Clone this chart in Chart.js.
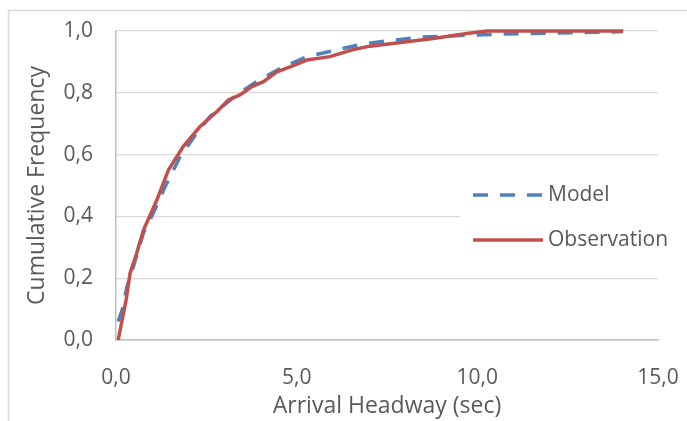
<!DOCTYPE html>
<html>
<head>
<meta charset="utf-8">
<script src="https://cdn.jsdelivr.net/npm/chart.js@4.4.0/dist/chart.umd.min.js"></script>
<style>
    html, body { margin: 0; padding: 0; background: #ffffff; }
    #wrap { position: relative; width: 687px; height: 421px; }
</style>
</head>
<body>
<div id="wrap"><canvas id="cdfChart" width="687" height="421"></canvas></div>
<script>
// Dane
const obsX = [0.06, 0.28, 0.39, 0.57, 0.76, 1.13, 1.45, 1.86, 2.32, 2.79, 3.11, 3.43, 3.76, 4.08, 4.45, 4.82, 5.28, 5.92, 6.57, 7.03, 8.05, 8.78, 9.71, 10.26, 14.04];
const obsY = [0.0, 0.13, 0.216, 0.28, 0.356, 0.453, 0.55, 0.626, 0.69, 0.739, 0.777, 0.793, 0.82, 0.836, 0.868, 0.884, 0.906, 0.917, 0.94, 0.951, 0.965, 0.976, 0.992, 1.0, 1.0];

const modelX = [0.06, 0.19, 0.30, 0.48, 0.76, 1.03, 1.36, 1.77, 2.23, 2.60, 3.34, 3.89, 4.63, 5.28, 6.0, 6.84, 7.58, 8.41, 9.88, 10.71, 11.46, 13.76, 14.03];
const modelY = [0.06, 0.104, 0.172, 0.237, 0.346, 0.41, 0.496, 0.592, 0.669, 0.723, 0.793, 0.836, 0.884, 0.917, 0.936, 0.958, 0.969, 0.98, 0.987, 0.99, 0.992, 0.997, 0.998];

const seriesNames = ['Model', 'Observation'];
const xTicks = [0, 5, 10, 15];
const yTicks = [0, 0.2, 0.4, 0.6, 0.8, 1.0];

const BLUE = '#4f81bd';
const RED = '#c0504d';
const TEXT = '#595959';

Chart.defaults.font.family = "'Open Sans', sans-serif";
Chart.defaults.color = TEXT;

const fmt = v => v.toFixed(1).replace('.', ',');

// Ramka wokół całego wykresu
const framePlugin = {
    id: 'frame',
    beforeDraw(chart) {
        const ctx = chart.ctx;
        ctx.save();
        ctx.strokeStyle = '#d9d9d9';
        ctx.lineWidth = 1.5;
        ctx.strokeRect(8.5, 10.5, 720, 460);
        ctx.restore();
    }
};

// Legenda na obszarze wykresu (jak w Excelu)
const legendPlugin = {
    id: 'boxLegend',
    afterDraw(chart) {
        const ctx = chart.ctx;
        ctx.save();
        ctx.fillStyle = '#ffffff';
        ctx.fillRect(460, 162, 227, 110);
        const items = [
            { label: seriesNames[0], color: BLUE, dash: [15, 12], y: 195 },
            { label: seriesNames[1], color: RED, dash: [], y: 240 }
        ];
        items.forEach(it => {
            ctx.beginPath();
            ctx.setLineDash(it.dash);
            ctx.strokeStyle = it.color;
            ctx.lineWidth = 3.5;
            ctx.moveTo(473, it.y);
            ctx.lineTo(543, it.y);
            ctx.stroke();
            ctx.setLineDash([]);
            ctx.fillStyle = TEXT;
            ctx.font = "21px 'Open Sans', sans-serif";
            ctx.textBaseline = 'middle';
            ctx.textAlign = 'left';
            ctx.fillText(it.label, 548, it.y);
        });
        ctx.restore();
    }
};

const ctx = document.getElementById('cdfChart').getContext('2d');
new Chart(ctx, {
    type: 'scatter',
    data: {
        datasets: [{
            label: seriesNames[1],
            data: obsX.map((x, i) => ({ x: x, y: obsY[i] })),
            showLine: true,
            borderColor: RED,
            borderWidth: 3.5,
            pointRadius: 0,
            tension: 0,
            clip: false
        }, {
            label: seriesNames[0],
            data: modelX.map((x, i) => ({ x: x, y: modelY[i] })),
            showLine: true,
            borderColor: BLUE,
            borderWidth: 3.5,
            borderDash: [15, 12],
            pointRadius: 0,
            tension: 0,
            clip: false
        }]
    },
    options: {
        responsive: false,
        animation: false,
        layout: { padding: { left: 0, right: 29, top: 31, bottom: 0 } },
        plugins: {
            legend: { display: false },
            tooltip: { enabled: false }
        },
        scales: {
            x: {
                type: 'linear',
                min: 0,
                max: 15,
                afterBuildTicks: s => { s.ticks = xTicks.map(v => ({ value: v })); },
                afterFit: s => { s.height = 81; s.paddingLeft = 0; s.paddingRight = 0; },
                grid: { display: false },
                border: { display: true, color: '#bfbfbf', width: 1.5 },
                ticks: { padding: 17, font: { size: 21 }, callback: v => fmt(v) },
                title: { display: true, text: 'Arrival Headway (sec)', font: { size: 23 }, padding: { top: 0, bottom: 1 } }
            },
            y: {
                type: 'linear',
                min: 0,
                max: 1,
                afterBuildTicks: s => { s.ticks = yTicks.map(v => ({ value: v })); },
                afterFit: s => { s.width = 116; s.paddingTop = 0; s.paddingBottom = 0; },
                grid: { color: '#d9d9d9', lineWidth: 1.3, drawTicks: false },
                border: { display: true, color: '#bfbfbf', width: 1.5 },
                ticks: { padding: 23, font: { size: 21 }, callback: v => fmt(v) },
                title: { display: true, text: 'Cumulative Frequency', font: { size: 23 }, padding: { top: 24, bottom: 0 } }
            }
        }
    },
    plugins: [framePlugin, legendPlugin]
});
</script>
</body>
</html>
